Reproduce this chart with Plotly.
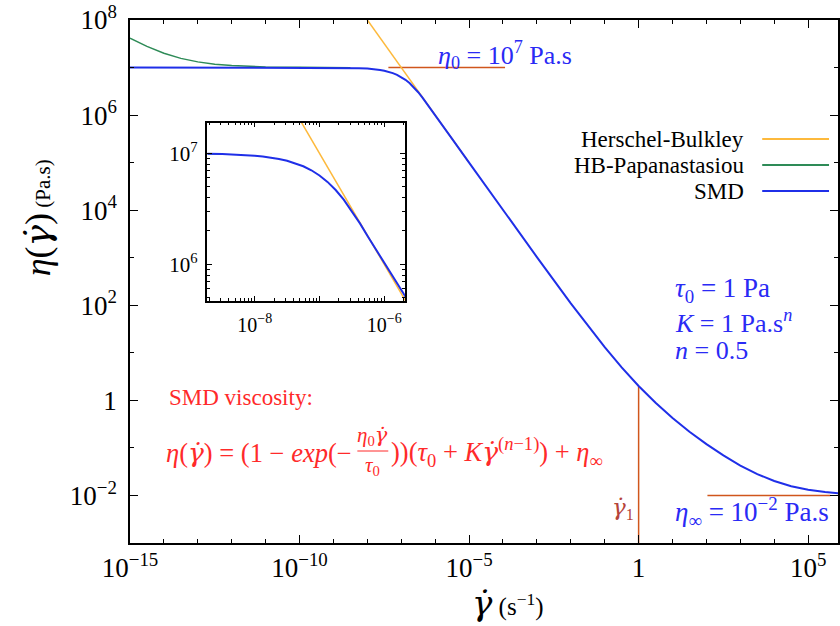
import plotly.graph_objects as go

# ---------------- data ----------------
smd_gamma = [1e-15, 1e-12, 1e-10, 3.16e-10, 1e-9, 1.78e-9, 3.16e-9, 5.62e-9, 1e-8,
             1.33e-8, 1.78e-8, 2.37e-8, 3.16e-8, 4.22e-8, 5.62e-8, 7.5e-8, 1e-7,
             1.33e-7, 1.78e-7, 2.37e-7, 3.16e-7, 4.22e-7, 5.62e-7, 7.5e-7, 1e-6,
             3.16e-6, 1e-5, 1e-4, 1e-3, 1e-2, 1e-1, 0.316, 1, 3.16, 10, 31.6, 100,
             316, 1e3, 3.16e3, 1e4, 3.16e4, 1e5, 3.16e5, 1e6]
smd_eta = [1.0e7, 1.0e7, 9.995e6, 9.98e6, 9.95e6, 9.91e6, 9.84e6, 9.72e6, 9.52e6,
           9.37e6, 9.16e6, 8.90e6, 8.57e6, 8.16e6, 7.65e6, 7.04e6, 6.32e6,
           5.53e6, 4.675e6, 3.825e6, 3.03e6, 2.338e6, 1.773e6, 1.334e6, 1.001e6,
           3.168e5, 1.003e5, 1.01e4, 1032, 110, 13.17, 4.95, 2.01, 0.889, 0.426, 0.219, 0.12,
           0.0694, 0.0426, 0.0281, 0.0201, 0.01565, 0.01317, 0.01178, 0.0110]

hb_gamma = [7.94e-9, 1e-8, 3.16e-8, 1e-7, 3.16e-7, 1e-6, 1e-5]
hb_eta = [1.259e8, 1.0e8, 3.163e7, 1.003e7, 3.164e6, 1.001e6, 1.003e5]

hbp_gamma = [1e-15, 3.16e-15, 1e-14, 3.16e-14, 1e-13, 3.16e-13, 1e-12, 3.16e-12,
             1e-11, 1e-10, 1e-9, 3.16e-9]
hbp_eta = [4.16e7, 2.78e7, 2.0e7, 1.56e7, 1.316e7, 1.178e7, 1.1e7, 1.056e7,
           1.032e7, 1.0095e7, 9.98e6, 9.86e6]

eta0_line_x = [4.17e-8, 1.15e-4]
eta0_line_y = [1e7, 1e7]
gamma1_line_x = [1, 1]
gamma1_line_y = [2.01, 1e-3]
etainf_line_x = [1.07e2, 4.5e5]
etainf_line_y = [1e-2, 1e-2]

x_tickvals = [1e-15, 1e-10, 1e-5, 1, 1e5]
x_ticktext = ["10<sup>−15</sup>", "10<sup>−10</sup>", "10<sup>−5</sup>", "1", "10<sup>5</sup>"]
x_minor = [10.0 ** k for k in range(-15, 6)]
y_tickvals = [1e-2, 1, 1e2, 1e4, 1e6, 1e8]
y_ticktext = ["10<sup>−2</sup>", "1", "10<sup>2</sup>", "10<sup>4</sup>", "10<sup>6</sup>", "10<sup>8</sup>"]
y_minor = [1e-3, 1e-1, 1e1, 1e3, 1e5, 1e7]

ix_tickvals = [1e-8, 1e-7, 1e-6]
ix_ticktext = ["10<sup>−8</sup>", "", "10<sup>−6</sup>"]
ix_minor = [m * 10.0 ** e for e in (-9, -8, -7, -6) for m in range(2, 10)]
iy_tickvals = [1e6, 1e7]
iy_ticktext = ["10<sup>6</sup>", "10<sup>7</sup>"]
iy_minor = [m * 10.0 ** e for e in (5, 6, 7) for m in range(2, 10)]

legend_names = ["Herschel-Bulkley", "HB-Papanastasiou", "SMD"]

# ---------------- styles ----------------
FONT = "Liberation Serif"
C_HB = "#fdb93c"
C_HBP = "#2e8b57"
C_SMD = "#1f2fe8"
C_BROWN = "#d0561c"
C_TXT_BLUE = "#2a2af5"
C_RED = "#ff2a2a"

W, H = 840, 626
L, R, T, B = 130, 0, 20, 83
PW, PH = W - L - R, H - T - B


def px(x):
    return (x - L) / PW


def py(y):
    return (H - B - y) / PH


fig = go.Figure()

for xs, ys in [(eta0_line_x, eta0_line_y), (gamma1_line_x, gamma1_line_y), (etainf_line_x, etainf_line_y)]:
    fig.add_trace(go.Scatter(x=xs, y=ys, mode="lines", line=dict(color=C_BROWN, width=1.5),
                             showlegend=False, hoverinfo="skip"))

fig.add_trace(go.Scatter(x=hb_gamma, y=hb_eta, mode="lines", name=legend_names[0],
                         line=dict(color=C_HB, width=1.5), showlegend=False))
fig.add_trace(go.Scatter(x=hbp_gamma, y=hbp_eta, mode="lines", name=legend_names[1],
                         line=dict(color=C_HBP, width=1.5), showlegend=False))
fig.add_trace(go.Scatter(x=smd_gamma, y=smd_eta, mode="lines", name=legend_names[2],
                         line=dict(color=C_SMD, width=2), showlegend=False))

fig.add_trace(go.Scatter(x=hb_gamma, y=hb_eta, mode="lines", xaxis="x2", yaxis="y2",
                         line=dict(color=C_HB, width=1.5), showlegend=False))
fig.add_trace(go.Scatter(x=hbp_gamma, y=hbp_eta, mode="lines", xaxis="x2", yaxis="y2",
                         line=dict(color=C_HBP, width=1.5), showlegend=False))
fig.add_trace(go.Scatter(x=smd_gamma, y=smd_eta, mode="lines", xaxis="x2", yaxis="y2",
                         line=dict(color=C_SMD, width=2), showlegend=False))

axis_common = dict(type="log", showgrid=False, zeroline=False, showline=True,
                   linecolor="black", linewidth=1.5, ticks="inside", mirror="allticks",
                   tickcolor="black", tickmode="array")

fig.update_layout(
    width=W, height=H,
    margin=dict(l=L, r=R, t=T, b=B),
    paper_bgcolor="white", plot_bgcolor="white",
    font=dict(family=FONT, color="black", size=20),
    xaxis=dict(**axis_common, range=[-15, 5.88], domain=[0, 1],
               tickvals=x_tickvals, ticktext=x_ticktext, ticklen=8, tickwidth=1,
               tickfont=dict(size=27, family=FONT),
               minor=dict(tickvals=x_minor, ticklen=4, ticks="inside", tickcolor="black")),
    yaxis=dict(**axis_common, range=[-3, 8], domain=[0, 1],
               tickvals=y_tickvals, ticktext=y_ticktext, ticklen=8, tickwidth=1,
               tickfont=dict(size=27, family=FONT), ticklabelstandoff=6,
               minor=dict(tickvals=y_minor, ticklen=4, ticks="inside", tickcolor="black")),
    xaxis2=dict(**axis_common, range=[-8.73, -5.68], domain=[px(207.7), px(405.7)],
                anchor="y2", tickvals=ix_tickvals, ticktext=ix_ticktext, ticklen=5, tickwidth=1,
                tickfont=dict(size=20, family=FONT), ticklabelstandoff=5,
                minor=dict(tickvals=ix_minor, ticklen=3, ticks="inside", tickcolor="black")),
    yaxis2=dict(**axis_common, range=[5.67, 7.276], domain=[py(301), py(122.7)],
                anchor="x2", tickvals=iy_tickvals, ticktext=iy_ticktext, ticklen=5, tickwidth=1,
                tickfont=dict(size=21, family=FONT), ticklabelstandoff=4,
                minor=dict(tickvals=iy_minor, ticklen=3, ticks="inside", tickcolor="black")),
)

GD = '<span style="font-family:DejaVu Serif"><i>γ̇</i></span>'


def ann(text, x, y, size, color="black", xanchor="left", yanchor="middle", angle=0, family=FONT):
    fig.add_annotation(text=text, x=px(x), y=py(y), xref="paper", yref="paper",
                       showarrow=False, xanchor=xanchor, yanchor=yanchor, textangle=angle,
                       font=dict(family=family, size=size, color=color))


ann('<span style="font-size:36px"><i>η</i>(' + GD + ')</span> <span style="font-size:21px">(Pa.s)</span>',
    38, 218, 21, xanchor="center", angle=-90)
ann('<span style="font-size:34px">' + GD + '</span> <span style="font-size:25px">(s<sup>−1</sup>)</span>',
    509, 603, 25, xanchor="center")

ann("<i>η</i><sub>0</sub> = 10<sup>7</sup> Pa.s", 437, 55, 26, C_TXT_BLUE)

for name, col, yy in zip(legend_names, [C_HB, C_HBP, C_SMD], [139, 165, 191]):
    ann(name, 748, yy, 23, "black", xanchor="right")
    fig.add_shape(type="line", xref="paper", yref="paper", x0=px(764), x1=px(831),
                  y0=py(yy), y1=py(yy), line=dict(color=col, width=2))

ann("<i>τ</i><sub>0</sub> = 1 Pa", 675, 290, 27, C_TXT_BLUE)
ann("<i>K</i> = 1 Pa.s<sup><i>n</i></sup>", 675, 321, 26, C_TXT_BLUE)
ann("<i>n</i> = 0.5", 675, 350, 26, C_TXT_BLUE)

ann("SMD viscosity:", 167, 397, 23, C_RED)
ann("<i>η</i>(" + GD + ") = (1 − <i>exp</i>(−", 355, 452, 26.5, C_RED, xanchor="right")
ann("<i>η</i><sub>0</sub>" + GD, 373, 436, 21, C_RED, xanchor="center")
ann("<i>τ</i><sub>0</sub>", 373, 466, 21, C_RED, xanchor="center")
fig.add_shape(type="line", xref="paper", yref="paper", x0=px(358), x1=px(389),
              y0=py(451), y1=py(451), line=dict(color=C_RED, width=1))
ann("))(<i>τ</i><sub>0</sub> + <i>K</i>" + GD + "<sup>(<i>n</i>−1)</sup>) + <i>η</i><sub>∞</sub>",
    390, 452, 26.5, C_RED)

ann(GD + "<sub>1</sub>", 637, 508, 23, "#b5443a", xanchor="right")
ann("<i>η</i><sub>∞</sub> = 10<sup>−2</sup> Pa.s", 675, 512, 27, C_TXT_BLUE)

fig.write_html("out.html")
